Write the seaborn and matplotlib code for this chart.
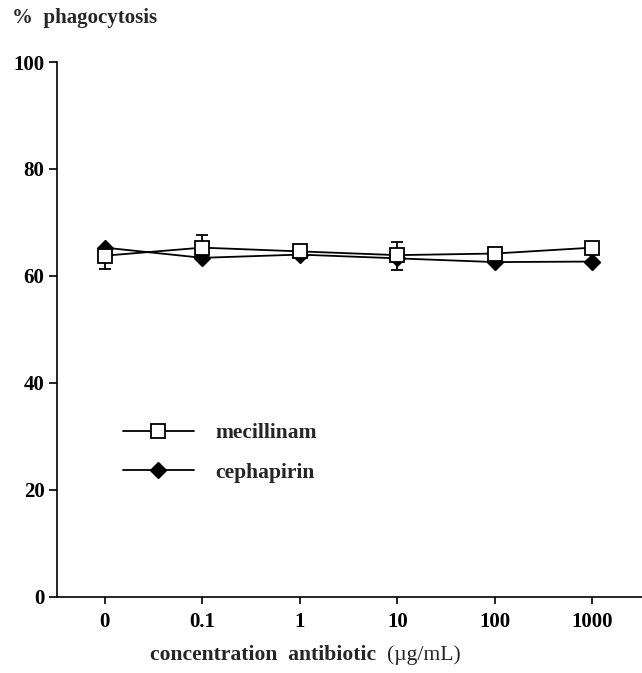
import numpy as np
import pandas as pd
import matplotlib
matplotlib.use("Agg")
import matplotlib.pyplot as plt
import seaborn as sns

# data
concentrations = ["0", "0.1", "1", "10", "100", "1000"]
mecillinam = [63.8, 65.3, 64.6, 63.9, 64.2, 65.3]
mecillinam_err_up = [0.0, 2.4, 0.0, 2.4, 0.0, 0.0]
mecillinam_err_down = [2.5, 0.0, 0.0, 2.7, 0.0, 0.0]
cephapirin = [65.3, 63.4, 64.0, 63.3, 62.6, 62.7]

df = pd.DataFrame({
    "pos": np.arange(len(concentrations)),
    "conc": concentrations,
    "mecillinam": mecillinam,
    "cephapirin": cephapirin,
})

sns.set_style("ticks")
plt.rcParams["font.family"] = ["Liberation Serif", "DejaVu Serif"]

fig = plt.figure(figsize=(6.42, 6.73), dpi=100)
ax = fig.add_axes([57 / 642, 1 - 597 / 673, 585 / 642, 535 / 673])

sns.lineplot(data=df, x="pos", y="cephapirin", ax=ax, color="black",
             marker="D", markersize=8, markerfacecolor="black",
             markeredgecolor="black", markeredgewidth=1, linewidth=1.3,
             label="cephapirin")

ax.errorbar(df["pos"], df["mecillinam"],
            yerr=[mecillinam_err_down, mecillinam_err_up],
            fmt="none", ecolor="black", elinewidth=1.3, capsize=4, capthick=1.3)

sns.lineplot(data=df, x="pos", y="mecillinam", ax=ax, color="black",
             marker="s", markersize=10.5, markerfacecolor="white",
             markeredgecolor="black", markeredgewidth=1.3, linewidth=1.3,
             label="mecillinam")

ax.set_xlim(-0.49, 5.51)
ax.set_ylim(0, 100)
ax.set_xticks(df["pos"])
ax.set_xticklabels(concentrations)
ax.set_yticks([0, 20, 40, 60, 80, 100])
ax.set_xlabel("")
ax.set_ylabel("")

for s in ["top", "right"]:
    ax.spines[s].set_visible(False)
for s in ["left", "bottom"]:
    ax.spines[s].set_linewidth(1.2)
    ax.spines[s].set_color("black")

ax.tick_params(axis="y", length=6, width=1.2, labelsize=15, pad=3, colors="black")
ax.tick_params(axis="x", length=5, width=1.2, labelsize=15, pad=6, colors="black")
for lbl in ax.get_xticklabels() + ax.get_yticklabels():
    lbl.set_fontweight("bold")

handles, labels = ax.get_legend_handles_labels()
order = [labels.index("mecillinam"), labels.index("cephapirin")]
leg = ax.legend([handles[i] for i in order], [labels[i] for i in order],
                loc="upper left", bbox_to_anchor=(0.112, 0.325),
                frameon=False, handlelength=3.3, handletextpad=1.0,
                labelspacing=0.9, borderpad=0, borderaxespad=0,
                prop={"family": "Liberation Serif", "weight": "bold", "size": 15.5})

fig.text(12 / 642, 1 - 18 / 673, "%  phagocytosis", ha="left", va="center",
         fontsize=15, fontweight="bold")
fig.text(150 / 642, 1 - 655 / 673, "concentration  antibiotic", ha="left",
         va="center", fontsize=15.6, fontweight="bold")
fig.text(387 / 642, 1 - 655 / 673, "(µg/mL)", ha="left", va="center",
         fontsize=15.6)

fig.savefig("out.png", dpi=100, facecolor="white")
